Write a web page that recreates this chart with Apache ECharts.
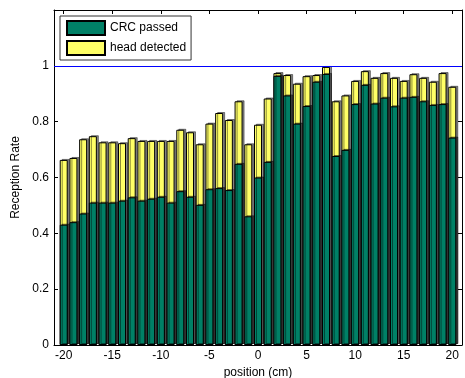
<!DOCTYPE html>
<html><head><meta charset="utf-8">
<script src="https://cdn.jsdelivr.net/npm/echarts@6/dist/echarts.min.js"></script>
<style>html,body{margin:0;padding:0;background:#fff}#c{width:465px;height:378px}</style>
</head><body><div id="c"></div>
<script>
const positions = [-20,-19,-18,-17,-16,-15,-14,-13,-12,-11,-10,-9,-8,-7,-6,-5,-4,-3,-2,-1,0,1,2,3,4,5,6,7,8,9,10,11,12,13,14,15,16,17,18,19,20];
const crcPassed = [0.431,0.440,0.471,0.510,0.510,0.510,0.517,0.529,0.517,0.524,0.531,0.510,0.551,0.531,0.502,0.558,0.562,0.555,0.649,0.461,0.600,0.656,0.964,0.894,0.793,0.856,0.943,0.971,0.677,0.699,0.863,0.932,0.865,0.886,0.855,0.886,0.889,0.873,0.860,0.863,0.743];
const headDetected = [0.663,0.670,0.737,0.748,0.726,0.726,0.723,0.741,0.731,0.731,0.731,0.731,0.771,0.762,0.719,0.793,0.831,0.806,0.873,0.719,0.789,0.883,0.974,0.967,0.936,0.963,0.967,0.996,0.873,0.894,0.946,0.981,0.957,0.974,0.957,0.946,0.970,0.957,0.943,0.974,0.925];
const xTicks = [-20,-15,-10,-5,0,5,10,15,20];
const yTicks = [0,0.2,0.4,0.6,0.8,1];
const refLevel = 1;

const font = 'Liberation Sans, Arial, Helvetica, sans-serif';
const chart = echarts.init(document.getElementById('c'), null, {renderer:'canvas'});
const barStyle = (c) => ({color:c, borderColor:'#000', borderWidth:1, shadowColor:'rgba(0,0,0,0.45)', shadowOffsetX:2, shadowOffsetY:-1, shadowBlur:0});
chart.setOption({
  animation:false,
  backgroundColor:'#fff',
  grid:{left:54, right:3, top:10, bottom:33, outerBoundsMode:'none', containLabel:false},
  legend:{
    data:['CRC passed','head detected'],
    orient:'vertical', left:60, top:16,
    padding:[4,5,4,6], itemGap:4, itemWidth:38, itemHeight:14,
    backgroundColor:'#fff', borderColor:'#333', borderWidth:1,
    textStyle:{fontFamily:font, fontSize:12, color:'#000'},
    icon:'rect'
  },
  xAxis:[{
    type:'value', min:-21, max:21,
    name:'position (cm)', nameLocation:'middle', nameGap:20,
    nameTextStyle:{fontFamily:font, fontSize:12, color:'#000'},
    axisLine:{onZero:false, lineStyle:{color:'#000', width:1}},
    axisTick:{inside:true, length:4, customValues:xTicks, lineStyle:{color:'#000'}},
    axisLabel:{customValues:xTicks, fontFamily:font, fontSize:12, color:'#000', margin:5},
    splitLine:{show:false}
  },{
    type:'value', min:-21, max:21, position:'top',
    axisLine:{onZero:false, lineStyle:{color:'#000', width:1}},
    axisTick:{inside:true, length:4, customValues:xTicks, lineStyle:{color:'#000'}},
    axisLabel:{show:false}, splitLine:{show:false}
  }],
  yAxis:[{
    type:'value', min:0, max:1.2, interval:0.2, position:'left',
    name:'Reception Rate', nameLocation:'middle', nameGap:28,
    nameTextStyle:{fontFamily:font, fontSize:12, color:'#000'},
    axisLine:{show:true, onZero:false, lineStyle:{color:'#000', width:1}},
    axisTick:{show:true, inside:true, length:4, customValues:yTicks, lineStyle:{color:'#000'}},
    axisLabel:{customValues:yTicks, fontFamily:font, fontSize:12, color:'#000', margin:5,
      formatter:(v)=>String(+(+v).toFixed(1))},
    splitLine:{show:false}
  },{
    type:'value', min:0, max:1.2, interval:0.2, position:'right',
    axisLine:{show:true, onZero:false, lineStyle:{color:'#000', width:1}},
    axisTick:{show:true, inside:true, length:4, customValues:yTicks, lineStyle:{color:'#000'}},
    axisLabel:{show:false}, splitLine:{show:false}
  }],
  series:[
    {name:'head detected', type:'bar', barWidth:8, barGap:'-100%',
     data:positions.map((p,i)=>[p, headDetected[i]]), itemStyle:barStyle('#ffff66'),
     markLine:{silent:true, symbol:['none','none'], label:{show:false},
       lineStyle:{color:'#0000ff', width:1, type:'solid'}, data:[{yAxis:refLevel}]}},
    {name:'CRC passed', type:'bar', barWidth:8, barGap:'-100%',
     data:positions.map((p,i)=>[p, crcPassed[i]]), itemStyle:barStyle('#008066')}
  ]
});
</script></body></html>
